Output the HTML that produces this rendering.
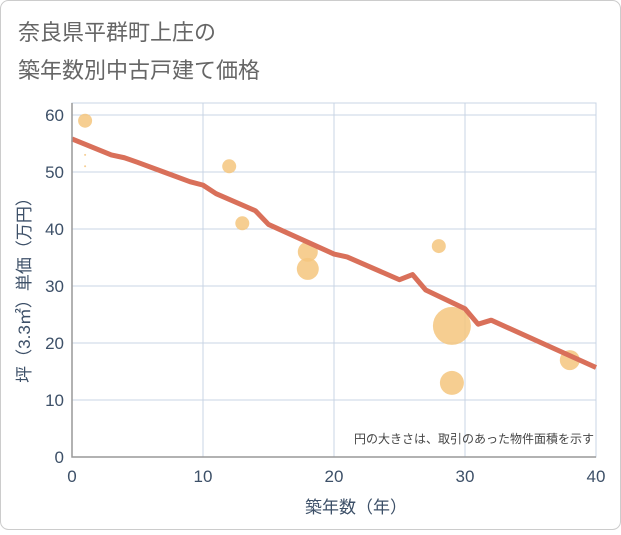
<!DOCTYPE html>
<html><head><meta charset="utf-8"><style>
body{margin:0;background:#fff;font-family:"Liberation Sans","Noto Sans CJK JP",sans-serif}
</style></head><body>
<svg width="621" height="530" xmlns="http://www.w3.org/2000/svg">
<rect x="0.5" y="0.5" width="620" height="529" rx="8" fill="#fff" stroke="#ccc"/>
<text x="18" y="40" font-size="22" fill="#666" font-family="Liberation Sans,Noto Sans CJK JP,sans-serif">奈良県平群町上庄の</text>
<text x="18" y="78" font-size="22" fill="#666" font-family="Liberation Sans,Noto Sans CJK JP,sans-serif">築年数別中古戸建て価格</text>
<g id="grid"></g><g id="bubbles"></g><g id="line"></g><g id="axes"></g>
<text x="594" y="443" font-size="12" fill="#444" text-anchor="end" font-family="Liberation Sans,Noto Sans CJK JP,sans-serif">円の大きさは、取引のあった物件面積を示す</text>
<text x="356" y="513" font-size="17" fill="#3d5068" text-anchor="middle" font-family="Liberation Sans,Noto Sans CJK JP,sans-serif">築年数（年）</text>
<text transform="translate(30,286) rotate(-90)" font-size="17" fill="#3d5068" text-anchor="middle" font-family="Liberation Sans,Noto Sans CJK JP,sans-serif">坪（3.3㎡）単価（万円）</text>
</svg>
<script>
const xTicks=[0,10,20,30,40];
const yTicks=[0,10,20,30,40,50,60];
const lineX=[0,3,4,5,7,9,10,11,14,15,20,21,25,26,27,30,31,32,40];
const lineY=[55.8,53,52.5,51.7,50,48.3,47.7,46.2,43.2,40.8,35.6,35.1,31.1,32,29.3,26,23.3,24,15.7];
const bubX=[1,1,1,12,13,18,18,28,29,29,38];
const bubY=[59,53,51,51,41,36,33,37,23,13,17];
const bubR=[7,1,1,7,7,10,11,7,19,12,10];
const L=72,R=596,T=103,B=457;
const sx=v=>L+(R-L)*v/40, sy=v=>B-(B-115)*v/60;
const NS="http://www.w3.org/2000/svg";
function mk(t,a,p){const e=document.createElementNS(NS,t);for(const k in a)e.setAttribute(k,a[k]);p.appendChild(e);return e;}
const g=document.getElementById('grid');
const bg=mk('rect',{x:L,y:T,width:R-L,height:B-T,fill:'#fff',stroke:'#c8d4e4'},g);


xTicks.forEach(v=>{const l=mk('line',{x1:sx(v),x2:sx(v),y1:T,y2:B,stroke:'#c8d4e4'},g);


const t=mk('text',{x:sx(v),y:B+25,'font-size':17,fill:'#3d5068','text-anchor':'middle'},g);t.textContent=v;

});
yTicks.forEach(v=>{const l=mk('line',{x1:L,x2:R,y1:sy(v),y2:sy(v),stroke:'#c8d4e4'},g);


const t=mk('text',{x:L-8,y:sy(v)+6,'font-size':17,fill:'#3d5068','text-anchor':'end'},g);t.textContent=v;

});
const ax=mk('polyline',{points:`${L},${T} ${L},${B} ${R},${B}`,fill:'none',stroke:'#999','stroke-width':1.5},document.getElementById('axes'));


const bb=document.getElementById('bubbles');
bubX.forEach((x,i)=>{const c=mk('circle',{cx:sx(x),cy:sy(bubY[i]),r:bubR[i],fill:'#f5c57e','fill-opacity':0.85},bb);

});
const pl=mk('polyline',{points:lineX.map((x,i)=>sx(x)+','+sy(lineY[i])).join(' '),fill:'none',stroke:'#d9705a','stroke-width':5,'stroke-linejoin':'round'},document.getElementById('line'));


</script>
</body></html>
